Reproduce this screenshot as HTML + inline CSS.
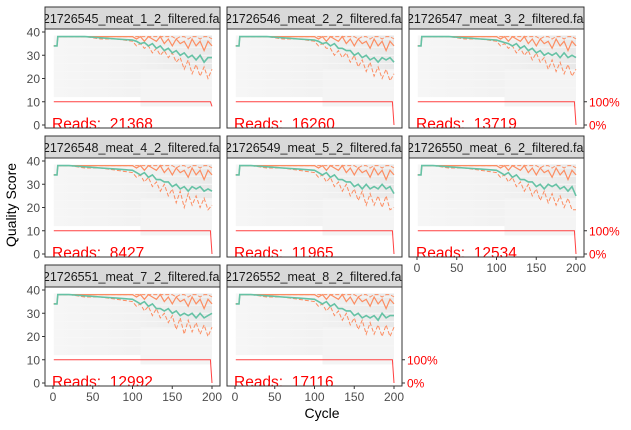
<!DOCTYPE html>
<html><head><meta charset="utf-8"><style>
body{margin:0;background:#fff;}
svg{display:block;font-family:"Liberation Sans",sans-serif;}
</style></head><body>
<svg id="chart" width="631" height="430">
<defs>
<linearGradient id="bg" x1="0" y1="0" x2="1" y2="0">
<stop offset="0" stop-color="#f2f2f2" stop-opacity="0.7"/>
<stop offset="0.5" stop-color="#efefef" stop-opacity="0.8"/>
<stop offset="1" stop-color="#e8e8e8" stop-opacity="1"/>
</linearGradient>
</defs>
<text x="16" y="205" transform="rotate(-90 16 205)" text-anchor="middle" font-size="14" fill="#000">Quality Score</text>
<text x="322" y="418" text-anchor="middle" font-size="14" fill="#000">Cycle</text>
</svg>
<script>
const panelNames = ["21726545_meat_1_2_filtered.fastq","21726546_meat_2_2_filtered.fastq","21726547_meat_3_2_filtered.fastq","21726548_meat_4_2_filtered.fastq","21726549_meat_5_2_filtered.fastq","21726550_meat_6_2_filtered.fastq","21726551_meat_7_2_filtered.fastq","21726552_meat_8_2_filtered.fastq"];
const readCounts = [21368,16260,13719,8427,11965,12534,12992,17116];
const cycleKnots = [1,5,6,20,40,60,80,100,105,110,115,120,125,130,135,140,145,150,155,160,165,170,175,180,185,190,195,200];
const meanQ = [
[34,34,38,38,38,37.5,37,36.5,36,35,35.5,34,35,33,34,32,33,31,32,30,31,29,30,28,30,27,29,29],
[34,34,38,38,38,37.5,37,36.5,36,35,35.5,34,35,33,33,32,32,30,31,29,30,28,29,27,29,28,29,27],
[34,34,38,38,38,37.5,37,36.5,36,35.5,35,34,35,33,34,32,33,31,32,30,31,30,31,29,31,29,30,29],
[34,34,38,38,37.5,37,36.5,36,35,34,35,33,34,32,32,31,31,29,30,28,29,27,29,28,29,27,28,27],
[34,34,38,38,37.5,37,36.5,36,35,34,35,33,34,32,32,31,31,29,30,28,30,28,29,28,30,28,29,26],
[34,34,38,38,37.5,37,36.5,36,35,34,35,33,34,32,32,31,31,29,30,28,30,29,30,28,29,27,29,25],
[34,34,38,38,37.5,37,36.5,36,35,34,35,33,34,32,32,31,32,30,31,29,30,29,30,28,30,28,29,30],
[34,34,38,38,37.5,37,36.5,36,35,34,35,33,34,32,32,31,31,29,30,28,29,28,29,27,30,28,29,29]];
const q25Q = [
[34,34,38,38,38,37,37,36,34,35,33,34,31,33,30,32,29,31,27,29,24,28,22,26,21,25,20,24],
[34,34,38,38,38,37,37,36,34,35,33,33,30,32,29,31,27,30,25,28,23,27,21,25,20,24,19,22],
[34,34,38,38,38,37,37,36,34,35,33,34,31,33,30,32,28,31,27,29,24,28,23,27,22,26,21,24],
[34,34,38,38,37,37,36,35,33,34,31,33,29,31,27,30,25,28,22,27,20,26,21,25,20,24,19,21],
[34,34,38,38,37,37,36,35,33,34,31,33,29,31,27,30,25,28,23,27,21,26,21,25,20,25,19,20],
[34,34,38,38,37,37,36,35,33,34,31,33,29,31,27,30,25,28,23,27,22,26,21,25,20,24,19,19],
[34,34,38,38,37,37,36,35,33,34,31,33,29,32,28,30,26,29,23,28,21,27,22,26,21,25,20,24],
[34,34,38,38,37,37,36,35,33,34,31,33,29,31,27,30,25,28,23,27,21,26,21,25,20,25,20,24]];
const medianQ = [34,34,38,38,38,38,38,38,37,38,36,38,37,36,38,35,37,34,37,35,36,33,37,34,36,32,36,34];
const q75Q = [34,34,38,38,38,38,38,38,38,38,38,38,38,38,38,38,38,38,37,38,38,37,38,38,37,38,38,37];
const readEnd = [0.8,0,0,0,0,0,0,0];
const xTicks = [0,50,100,150,200];
const yTicks = [0,10,20,30,40];

const svg = document.getElementById('chart');
const NS = "http://www.w3.org/2000/svg";
function mk(tag, attrs, parent){const e=document.createElementNS(NS,tag);for(const k in attrs)e.setAttribute(k,attrs[k]);(parent||svg).appendChild(e);return e;}
const colX=[45,227,409], rowY=[29,158,287], PW=175, PH=99;

panelNames.forEach((name,i)=>{
  const r=Math.floor(i/3), c=i%3, px=colX[c], py=rowY[r];
  const xs=v=>px+8+v*0.795;
  const ys=v=>py+96-v*2.325;
  const g=mk('g',{});
  
  
  const cp=mk('clipPath',{id:'cp'+i},g); mk('rect',{x:px,y:py-23,width:PW,height:23},cp);
  const cp2=mk('clipPath',{id:'pc'+i},g); mk('rect',{x:px,y:py,width:PW,height:PH},cp2);
  const strip=mk('rect',{x:px,y:py-22,width:PW,height:22,fill:'#d9d9d9',stroke:'#333','stroke-width':1},g);
  
  
  const st=mk('text',{x:px+PW/2+7,y:py-6,'text-anchor':'middle','font-size':12.5,fill:'#1a1a1a','clip-path':'url(#cp'+i+')'},g);
  st.textContent=name;
  
  
  mk('rect',{x:px,y:py,width:PW,height:PH,fill:'#fff'},g);
  mk('rect',{x:xs(1),y:ys(38.5),width:xs(200)-xs(1),height:ys(12)-ys(38.5),fill:'url(#bg)'},g);
  mk('rect',{x:xs(110),y:ys(24),width:xs(200)-xs(110),height:ys(8)-ys(24),fill:'#f4f4f4'},g);
  for(let k=0;k<7;k++)mk('line',{x1:xs(1),x2:xs(200),y1:ys(37-k*3.5),y2:ys(37-k*3.5),stroke:'#f7f7f7','stroke-width':1},g);
  const path=arr=>arr.map((v,j)=>(j?'L':'M')+xs(cycleKnots[j]).toFixed(1)+','+ys(v).toFixed(1)).join('');
  const l1=mk('path',{d:path(q25Q[i]),fill:'none',stroke:'#FC8D62','stroke-width':1,'stroke-dasharray':'4,2'},g);
  
  
  const l2=mk('path',{d:path(q75Q),fill:'none',stroke:'#FC8D62','stroke-width':1,'stroke-dasharray':'4,2'},g);
  
  
  const l3=mk('path',{d:path(medianQ),fill:'none',stroke:'#FC8D62','stroke-width':1.2},g);
  
  
  const l4=mk('path',{d:path(meanQ[i]),fill:'none',stroke:'#66C2A5','stroke-width':1.6},g);
  
  
  const rl=mk('path',{d:'M'+xs(1)+','+ys(10)+'L'+xs(198)+','+ys(10)+'L'+xs(200)+','+ys(10*readEnd[i]),fill:'none',stroke:'#ff4040','stroke-width':1},g);
  
  
  const rt=mk('text',{x:px+7,y:ys(0)+4,'font-size':15.5,fill:'#ff0000','clip-path':'url(#pc'+i+')','xml:space':'preserve',style:'white-space:pre'},g);
  rt.textContent='Reads:  '+readCounts[i];
  
  
  mk('rect',{x:px,y:py,width:PW,height:PH,fill:'none',stroke:'#333','stroke-width':1},g);
  if(c===0) yTicks.forEach(t=>{
    mk('line',{x1:px-3,x2:px,y1:ys(t),y2:ys(t),stroke:'#333'},g);
    const tt=mk('text',{x:px-5,y:ys(t)+4.5,'text-anchor':'end','font-size':12,fill:'#4d4d4d'},g);
    tt.textContent=t;
    
    
  });
  const bottom = (r===2)||(r===1&&c===2);
  if(bottom) xTicks.forEach(t=>{
    mk('line',{x1:xs(t),x2:xs(t),y1:py+PH,y2:py+PH+3,stroke:'#333'},g);
    const tt=mk('text',{x:xs(t),y:py+PH+15,'text-anchor':'middle','font-size':12,fill:'#4d4d4d'},g);
    tt.textContent=t;
    
    
  });
  const right = c===2 || i===7;
  if(right) [[10,'100%'],[0,'0%']].forEach(([v,lab])=>{
    mk('line',{x1:px+PW,x2:px+PW+3,y1:ys(v),y2:ys(v),stroke:'#333'},g);
    const tt=mk('text',{x:px+PW+5,y:ys(v)+4.5,'font-size':12,fill:'#ff0000'},g);
    tt.textContent=lab;
    
    
  });
});
</script>
</body></html>
